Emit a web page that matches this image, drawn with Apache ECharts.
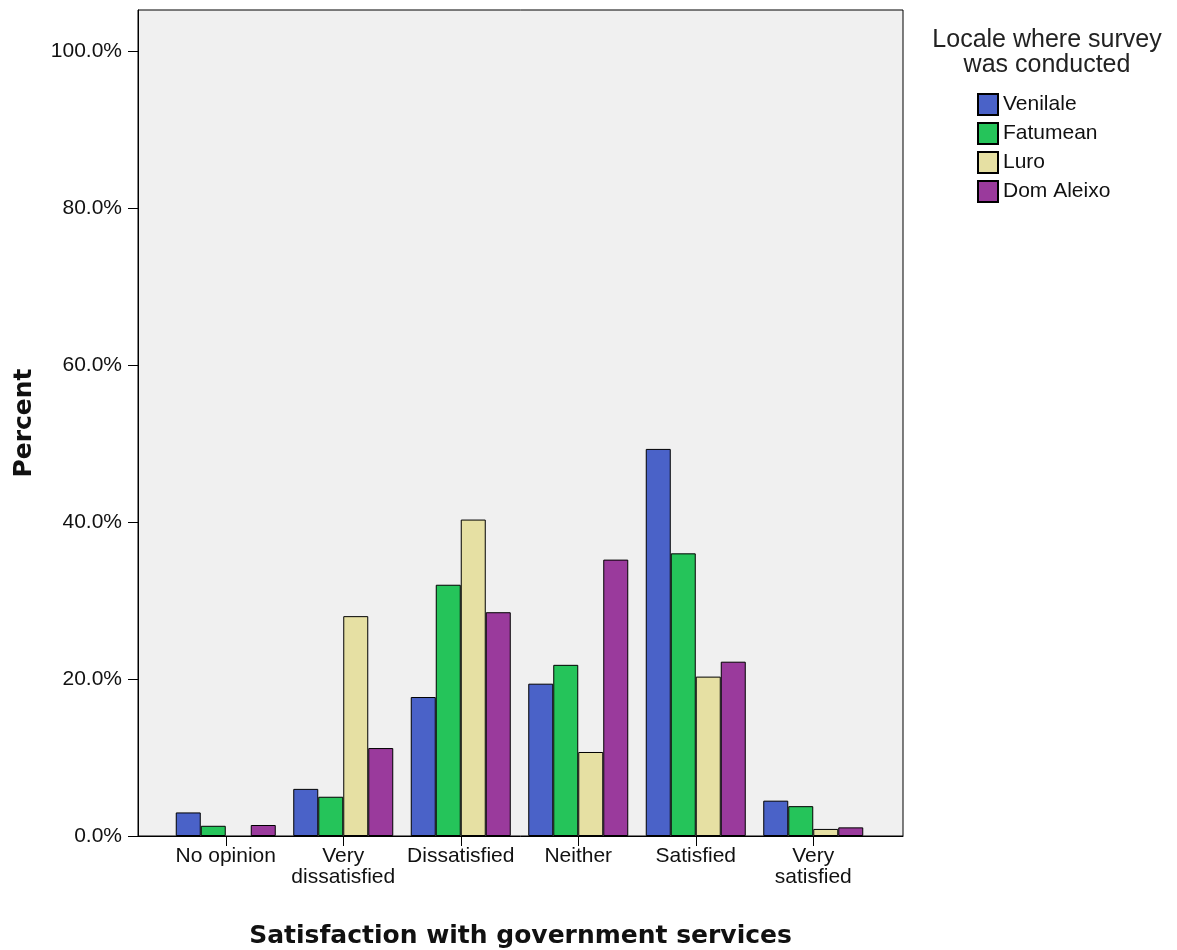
<!DOCTYPE html>
<html>
<head>
<meta charset="utf-8">
<script src="https://cdn.jsdelivr.net/npm/echarts@6/dist/echarts.min.js"></script>
<style>
html,body{margin:0;padding:0;background:#fff;}
#chart{width:1177px;height:950px;}
</style>
</head>
<body>
<div id="chart"></div>
<script>
var categories = ['No opinion', 'Very\ndissatisfied', 'Dissatisfied', 'Neither', 'Satisfied', 'Very\nsatisfied'];
var seriesNames = ['Venilale', 'Fatumean', 'Luro', 'Dom Aleixo'];
var venilale  = [3.0, 6.0, 17.7, 19.4, 49.3, 4.5];
var fatumean  = [1.3, 5.0, 32.0, 21.8, 36.0, 3.8];
var luro      = [0.0, 28.0, 40.3, 10.7, 20.3, 0.9];
var domAleixo = [1.4, 11.2, 28.5, 35.2, 22.2, 1.1];
var yTicks = [0, 20, 40, 60, 80, 100];
var colors = ['#4a62c8', '#25c45a', '#e6e0a3', '#9a3a9c'];

var font = 'Liberation Sans, Arial, sans-serif';
var boldFont = 'DejaVu Sans, Verdana, sans-serif';
var yMax = 105.2;
var allData = [venilale, fatumean, luro, domAleixo];

var chart = echarts.init(document.getElementById('chart'));
var option = {
  backgroundColor: '#ffffff',
  animation: false,
  grid: [
    {left: 138, right: 274, top: 10, bottom: 114, show: true, backgroundColor: '#f0f0f0', borderColor: '#000', borderWidth: 1, containLabel: false, outerBoundsMode: 'none'},
    {left: 167, right: 305, top: 10, bottom: 114, containLabel: false, outerBoundsMode: 'none'}
  ],
  xAxis: [
    {type: 'category', gridIndex: 0, data: [''], axisLine: {show: true, lineStyle: {color: '#000'}}, axisTick: {show: false}, axisLabel: {show: false},
     name: 'Satisfaction with government services', nameLocation: 'middle', nameGap: 88,
     nameTextStyle: {fontFamily: boldFont, fontWeight: 'bold', fontSize: 25, color: '#111'}},
    {type: 'category', gridIndex: 1, data: categories, axisLine: {show: false},
     axisTick: {show: true, alignWithLabel: true, length: 10, lineStyle: {color: '#000'}},
     axisLabel: {fontFamily: font, fontSize: 21, color: '#111', lineHeight: 21, margin: 10, interval: 0}}
  ],
  yAxis: [
    {type: 'value', gridIndex: 0, min: 0, max: yMax,
     axisLine: {show: true, lineStyle: {color: '#000'}},
     axisTick: {show: true, length: 10, lineStyle: {color: '#000'}, customValues: yTicks},
     axisLabel: {fontFamily: font, fontSize: 21, color: '#111', margin: 16, customValues: yTicks,
       padding: [6, 0, 0, 0],
       formatter: function (v) { return v.toFixed(1) + '%'; }},
     splitLine: {show: false},
     name: 'Percent', nameLocation: 'middle', nameGap: 101,
     nameTextStyle: {fontFamily: boldFont, fontWeight: 'bold', fontSize: 25, color: '#111'}},
    {type: 'value', gridIndex: 1, min: 0, max: yMax, show: false, splitLine: {show: false}}
  ],
  legend: {
    orient: 'vertical', left: 977, top: 93, itemWidth: 20, itemHeight: 21, itemGap: 6, padding: 0,
    icon: 'rect', data: seriesNames,
    textStyle: {fontFamily: font, fontSize: 21, color: '#111', lineHeight: 21}
  },
  graphic: [
    {type: 'text', x: 1047, y: 28, style: {text: 'Locale where survey\nwas conducted', align: 'center', verticalAlign: 'top',
      fontFamily: font, fontSize: 25, lineHeight: 25, fill: '#222'}}
  ],
  series: seriesNames.map(function (name, i) {
    return {
      name: name, type: 'bar', xAxisIndex: 1, yAxisIndex: 1,
      data: allData[i].map(function (v) {
        return v === 0 ? {value: v, itemStyle: {borderWidth: 0}} : v;
      }),
      barWidth: 25, barGap: '0%',
      itemStyle: {color: colors[i], borderColor: '#000', borderWidth: 1}
    };
  })
};
chart.setOption(option);
</script>
</body>
</html>
